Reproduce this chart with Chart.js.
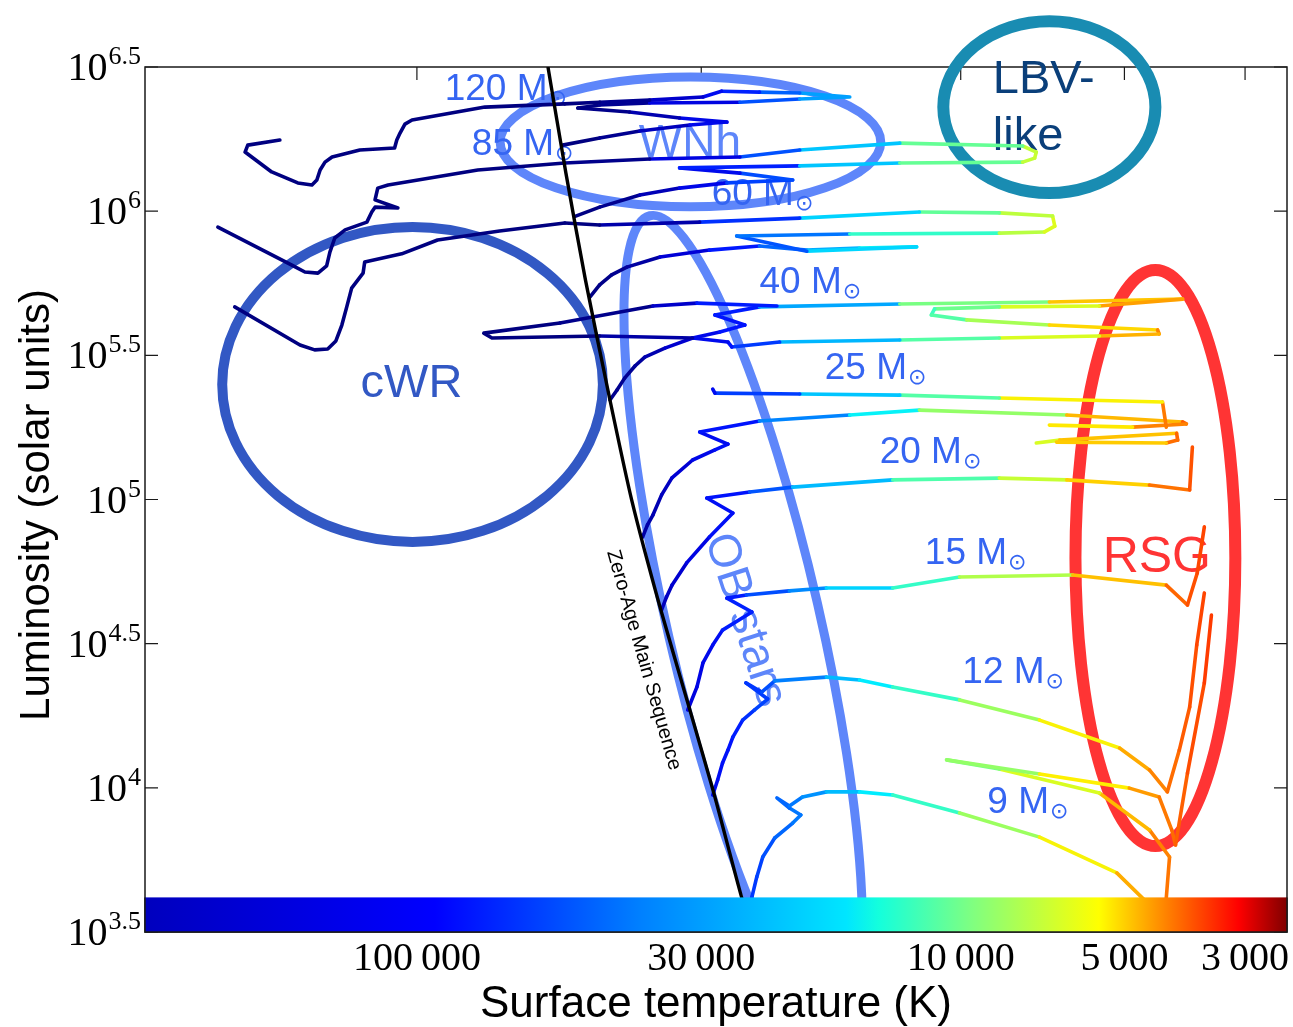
<!DOCTYPE html>
<html>
<head>
<meta charset="utf-8">
<title>HR diagram - massive star tracks</title>
<script src="https://cdn.jsdelivr.net/npm/chart.js@4.4.1/dist/chart.umd.min.js"></script>
<style>
  html, body { margin: 0; padding: 0; background: #fff; }
  #wrap { width: 1293px; height: 1027px; }
</style>
</head>
<body>
<div id="wrap"><canvas id="hrd" width="1293" height="1027"></canvas></div>
<script>
// every point is [log Teff, log L/Lsun]; null breaks the line
const zams = [
  [4.759, 6.500], [4.726, 6.132], [4.690, 5.761], [4.645, 5.345], [4.605, 4.998],
  [4.553, 4.627], [4.498, 4.270], [4.454, 3.982], [4.403, 3.621], [4.395, 3.590]
];

const track120 = [
  [4.732, 6.229], [4.664, 6.254], [4.590, 6.278], [4.498, 6.299], [4.430, 6.309], [4.517, 6.323],
  [4.609, 6.344], [4.704, 6.358], [4.664, 6.368], [4.572, 6.375], [4.406, 6.378], [4.296, 6.389],
  [4.204, 6.396], [4.296, 6.410], [4.370, 6.413], [4.440, 6.416], [4.474, 6.396], [4.572, 6.385],
  [4.664, 6.378], [4.728, 6.372], [4.875, 6.361], [5.009, 6.316], [5.022, 6.302], [5.031, 6.271],
  [5.037, 6.247], [5.041, 6.219], [5.105, 6.212], [5.156, 6.188], [5.169, 6.170], [5.178, 6.143],
  [5.184, 6.108], [5.193, 6.091], [5.219, 6.098], [5.267, 6.136], [5.316, 6.205], [5.311, 6.229],
  [5.252, 6.247]
];

const track85 = [
  [4.708, 5.983], [4.664, 6.014], [4.590, 6.056], [4.517, 6.080], [4.430, 6.098], [4.309, 6.108],
  [4.406, 6.132], [4.517, 6.150], [4.296, 6.157], [4.112, 6.167], [3.886, 6.170], [3.864, 6.184],
  [3.861, 6.205], [3.886, 6.226], [4.112, 6.236], [4.296, 6.212], [4.406, 6.188], [4.572, 6.181],
  [4.728, 6.167], [4.888, 6.143], [5.053, 6.091], [5.072, 6.080], [5.077, 6.039], [5.035, 6.011],
  [5.077, 6.014], [5.083, 5.997], [5.092, 5.962], [5.132, 5.935], [5.151, 5.907], [5.160, 5.858],
  [5.166, 5.810], [5.182, 5.785], [5.206, 5.789], [5.230, 5.813], [5.366, 5.945]
];

const track60 = [
  [4.682, 5.702], [4.664, 5.744], [4.642, 5.779], [4.614, 5.806], [4.553, 5.841], [4.462, 5.865],
  [4.370, 5.879], [4.283, 5.865], [4.186, 5.872], [4.081, 5.876], [4.283, 5.861], [4.412, 5.914],
  [4.204, 5.921], [3.929, 5.924], [3.846, 5.928], [3.827, 5.948], [3.831, 5.983], [3.929, 5.994],
  [4.076, 5.997], [4.296, 5.976], [4.480, 5.962], [4.664, 5.952], [4.728, 5.959], [4.848, 5.931],
  [4.962, 5.900], [5.028, 5.852], [5.096, 5.824], [5.099, 5.785], [5.120, 5.733], [5.129, 5.668],
  [5.138, 5.605], [5.149, 5.550], [5.164, 5.522], [5.188, 5.519], [5.215, 5.536], [5.335, 5.668]
];

const track40 = [
  [4.645, 5.345], [4.632, 5.380], [4.618, 5.421], [4.599, 5.463], [4.581, 5.494], [4.544, 5.525],
  [4.493, 5.560], [4.443, 5.581], [4.397, 5.605], [4.452, 5.640], [4.370, 5.668], [4.112, 5.678],
  [3.837, 5.685], [3.592, 5.695], [3.745, 5.671], [3.929, 5.668], [4.048, 5.661], [4.054, 5.640],
  [3.989, 5.623], [3.837, 5.605], [3.638, 5.588], [3.635, 5.574], [3.745, 5.567], [3.929, 5.560],
  [4.112, 5.553], [4.333, 5.546], [4.421, 5.529], [4.428, 5.546], [4.493, 5.560], [4.664, 5.567],
  [4.862, 5.560], [4.877, 5.577], [4.737, 5.612], [4.566, 5.671], [4.485, 5.681], [4.338, 5.671]
];

const track25 = [
  [4.585, 4.870], [4.576, 4.912], [4.566, 4.946], [4.550, 5.016], [4.531, 5.075], [4.493, 5.137],
  [4.452, 5.172], [4.428, 5.192], [4.480, 5.234], [4.370, 5.272], [4.204, 5.293], [4.076, 5.310],
  [3.805, 5.293], [3.592, 5.269], [3.585, 5.262], [3.684, 5.251], [3.837, 5.258],
  null,
  [3.861, 5.196], [3.818, 5.206], [3.603, 5.230], [3.601, 5.206], [3.622, 5.196], [3.824, 5.199],
  null,
  [3.622, 5.251], [3.629, 5.338], [3.929, 5.352], [4.112, 5.362], [4.296, 5.366], [4.452, 5.369],
  [4.456, 5.383]
];

const track20 = [
  [4.550, 4.617], [4.541, 4.662], [4.531, 4.703], [4.504, 4.780], [4.462, 4.870], [4.419, 4.953],
  [4.467, 5.005], [4.388, 5.026], [4.309, 5.043], [4.125, 5.068], [3.929, 5.074], [3.805, 5.068],
  [3.653, 5.050], [3.579, 5.033], [3.574, 5.182]
];

const track15 = [
  [4.502, 4.270], [4.485, 4.350], [4.474, 4.433], [4.456, 4.495], [4.438, 4.547], [4.384, 4.610],
  [4.430, 4.658], [4.394, 4.669], [4.315, 4.683], [4.247, 4.693], [4.125, 4.693], [4.002, 4.731],
  [3.794, 4.738], [3.622, 4.703], [3.583, 4.634], [3.565, 4.745], [3.552, 4.905]
];

const track12 = [
  [4.456, 3.975], [4.447, 4.027], [4.438, 4.086], [4.428, 4.131], [4.419, 4.176], [4.401, 4.235],
  [4.379, 4.270], [4.355, 4.308], [4.395, 4.364], [4.366, 4.332], [4.342, 4.371], [4.247, 4.384],
  [4.186, 4.374], [4.125, 4.350], [4.002, 4.305], [3.855, 4.235], [3.708, 4.138], [3.653, 4.062],
  [3.620, 3.986], [3.598, 4.131], [3.579, 4.280], [3.566, 4.495], [3.552, 4.676]
];

const track9 = [
  [4.388, 3.590], [4.384, 3.621], [4.375, 3.691], [4.364, 3.760], [4.342, 3.826], [4.309, 3.878],
  [4.294, 3.906], [4.315, 3.930], [4.338, 3.965], [4.315, 3.937], [4.291, 3.968], [4.247, 3.986],
  [4.186, 3.986], [4.125, 3.975], [4.002, 3.913], [3.855, 3.829], [3.713, 3.705], [3.653, 3.594],
  null,
  [3.623, 3.594], [3.616, 3.760], [3.653, 3.854], [3.745, 3.982], [3.929, 4.065], [4.026, 4.097],
  [3.855, 4.048], [3.690, 3.999], [3.635, 3.968], [3.612, 3.854], [3.605, 3.802], [3.583, 4.051],
  [3.552, 4.364], [3.539, 4.599]
];

const massNames = ["120", "85", "60", "40", "25", "20", "15", "12", "9"];
const massTracks = [track120, track85, track60, track40, track25, track20, track15, track12, track9];
const massLabelAt = [
  [4.949, 6.385], [4.899, 6.195], [4.458, 6.021], [4.370, 5.716], [4.250, 5.418],
  [4.149, 5.127], [4.066, 4.776], [3.997, 4.364], [3.951, 3.913]
];

const tempTicks = [100000, 30000, 10000, 5000, 3000];
const lumTicks = [3.5, 4, 4.5, 5, 5.5, 6, 6.5];

// regions: centre and semi-axes in dex
const regionNames = ["cWR", "WNh", "LBV", "RSG", "OB"];
const regionCentre = [[5.008, 5.399], [4.497, 6.240], [3.837, 6.361], [3.642, 4.797], [4.400, 4.582]];
const regionRadius = [[0.350, 0.546], [0.350, 0.225], [0.195, 0.298], [0.147, 0.999], [0.140, 1.439]];

// ---- styling ----
const regionStyle = {
  cWR: { colour: "#3258c4", width: 10, tilt: 0 },
  WNh: { colour: "#5e86fa", width: 9, tilt: 0 },
  LBV: { colour: "#198cb2", width: 12, tilt: 0 },
  RSG: { colour: "#ff3434", width: 12, tilt: 0 },
  OB: { colour: "#5e86fa", width: 9, tilt: -13 }
};

const SANS = '"Liberation Sans", Arial, sans-serif';
const SERIF = '"Liberation Serif", "DejaVu Serif", serif';

const notes = [
  { text: "cWR", at: [5.010, 5.355], size: 47, colour: "#3258c4", align: "center" },
  { text: "WNh", at: [4.498, 6.188], size: 46, colour: "#5e86fa", align: "center" },
  { text: "LBV-", at: [3.941, 6.410], size: 47, colour: "#0a3f7a", align: "left" },
  { text: "like", at: [3.941, 6.212], size: 47, colour: "#0a3f7a", align: "left" },
  { text: "RSG", at: [3.739, 4.749], size: 50, colour: "#ff3434", align: "left" },
  { text: "OB stars", at: [4.397, 4.582], size: 46, colour: "#5e86fa", align: "center", angle: 72, middle: true },
  { text: "Zero-Age Main Sequence", at: [4.583, 4.443], size: 20, colour: "#000", align: "center", angle: 74, middle: true }
];

// colour along the tracks, by log Teff (hot -> cool)
const trackStops = [
  [4.70, [0, 0, 128]], [4.60, [0, 0, 150]], [4.50, [0, 0, 220]], [4.42, [0, 20, 255]],
  [4.33, [0, 100, 255]], [4.25, [0, 160, 255]], [4.15, [0, 240, 255]], [4.05, [60, 255, 190]],
  [3.95, [140, 255, 110]], [3.85, [210, 255, 40]], [3.77, [255, 240, 0]], [3.68, [255, 170, 0]],
  [3.60, [255, 100, 0]], [3.52, [255, 40, 0]], [3.40, [200, 0, 0]]
];
// colour bar along the bottom
const barStops = [
  [5.50, [0, 0, 190]], [4.967, [0, 0, 255]], [4.59, [0, 128, 255]], [4.21, [0, 230, 255]],
  [4.15, [20, 255, 220]], [3.978, [128, 255, 128]], [3.746, [255, 255, 0]], [3.62, [255, 128, 0]],
  [3.489, [255, 0, 0]], [3.40, [128, 0, 0]]
];
const barTop = 3.62;

function mix(stops, t) {
  if (t >= stops[0][0]) return stops[0][1];
  for (let i = 1; i < stops.length; i++) {
    if (t >= stops[i][0]) {
      const [t0, c0] = stops[i - 1];
      const [t1, c1] = stops[i];
      const f = (t0 - t) / (t0 - t1);
      return c0.map((v, k) => Math.round(v + (c1[k] - v) * f));
    }
  }
  return stops[stops.length - 1][1];
}
const rgb = c => "rgb(" + c.join(",") + ")";
const trackColour = t => rgb(mix(trackStops, t));

const toPoints = arr => arr.map(p => (p ? { x: p[0], y: p[1] } : { x: null, y: null }));
const groupDigits = n => String(n).replace(/\B(?=(\d{3})+(?!\d))/g, "\u2009");

const datasets = massTracks.map((tr, i) => ({
  label: massNames[i] + " Msun",
  data: toPoints(tr),
  showLine: true,
  pointRadius: 0,
  borderWidth: 3.6,
  borderColor: "#00008a",
  borderCapStyle: "round",
  borderJoinStyle: "round",
  order: 1,
  segment: {
    borderColor: c => trackColour((c.p0.parsed.x + c.p1.parsed.x) / 2)
  }
}));
datasets.push({
  label: "ZAMS",
  data: toPoints(zams),
  showLine: true,
  pointRadius: 0,
  borderWidth: 3.4,
  borderColor: "#000",
  tension: 0.2,
  order: 0
});

const hrdDecor = {
  id: "hrdDecor",
  beforeDatasetsDraw(chart) {
    const { ctx, chartArea: a, scales: { x, y } } = chart;
    ctx.save();

    // frame with inward ticks
    ctx.strokeStyle = "#1a1a1a";
    ctx.lineWidth = 1.5;
    ctx.strokeRect(a.left, a.top, a.right - a.left, a.bottom - a.top);
    ctx.lineWidth = 1.2;
    ctx.beginPath();
    lumTicks.forEach(v => {
      const py = y.getPixelForValue(v);
      ctx.moveTo(a.left, py); ctx.lineTo(a.left + 13, py);
      ctx.moveTo(a.right, py); ctx.lineTo(a.right - 13, py);
    });
    tempTicks.forEach(T => {
      const px = x.getPixelForValue(Math.log10(T));
      ctx.moveTo(px, a.top); ctx.lineTo(px, a.top + 13);
    });
    ctx.stroke();

    // region outlines (may spill over the top edge, never below the axis)
    ctx.save();
    ctx.beginPath();
    ctx.rect(0, 0, chart.width, a.bottom);
    ctx.clip();
    regionNames.forEach((name, i) => {
      const st = regionStyle[name];
      const [t, l] = regionCentre[i];
      const [rt, rl] = regionRadius[i];
      const cx = x.getPixelForValue(t), cy = y.getPixelForValue(l);
      const rx = Math.abs(x.getPixelForValue(t + rt) - cx);
      const ry = Math.abs(y.getPixelForValue(l + rl) - cy);
      ctx.beginPath();
      ctx.ellipse(cx, cy, rx, ry, st.tilt * Math.PI / 180, 0, 2 * Math.PI);
      ctx.lineWidth = st.width;
      ctx.strokeStyle = st.colour;
      ctx.stroke();
    });
    ctx.restore();

    // region names
    notes.forEach(n => {
      ctx.save();
      ctx.translate(x.getPixelForValue(n.at[0]), y.getPixelForValue(n.at[1]));
      if (n.angle) ctx.rotate(n.angle * Math.PI / 180);
      ctx.font = n.size + "px " + SANS;
      ctx.fillStyle = n.colour;
      ctx.textAlign = n.align;
      ctx.textBaseline = n.middle ? "middle" : "alphabetic";
      ctx.fillText(n.text, 0, 0);
      ctx.restore();
    });

    // mass labels, M with a sun subscript
    massNames.forEach((m, i) => {
      const px = x.getPixelForValue(massLabelAt[i][0]);
      const py = y.getPixelForValue(massLabelAt[i][1]);
      ctx.fillStyle = "#3565f2";
      ctx.textAlign = "left";
      ctx.textBaseline = "alphabetic";
      ctx.font = "37px " + SANS;
      const txt = m + " M";
      ctx.fillText(txt, px, py);
      const w = ctx.measureText(txt).width;
      ctx.font = '22px "DejaVu Sans", sans-serif';
      ctx.fillText("\u2299", px + w + 1, py + 5);
    });
    ctx.restore();
  },
  afterDatasetsDraw(chart) {
    const { ctx, chartArea: a, scales: { x, y } } = chart;
    ctx.save();

    // temperature colour bar
    const top = y.getPixelForValue(barTop);
    const grad = ctx.createLinearGradient(a.left, 0, a.right, 0);
    barStops.forEach(([t, c]) => {
      const f = (x.getPixelForValue(t) - a.left) / (a.right - a.left);
      grad.addColorStop(Math.min(1, Math.max(0, f)), rgb(c));
    });
    ctx.fillStyle = grad;
    ctx.fillRect(a.left, top, a.right - a.left, a.bottom - top);
    ctx.strokeStyle = "#1a1a1a";
    ctx.lineWidth = 1.5;
    ctx.beginPath();
    ctx.moveTo(a.left, top); ctx.lineTo(a.left, a.bottom); ctx.lineTo(a.right, a.bottom); ctx.lineTo(a.right, top);
    ctx.stroke();

    // y tick labels: 10^v
    ctx.fillStyle = "#000";
    ctx.textAlign = "right";
    ctx.textBaseline = "alphabetic";
    lumTicks.forEach(v => {
      const py = y.getPixelForValue(v);
      const sup = String(v);
      ctx.font = "26px " + SERIF;
      const sw = ctx.measureText(sup).width;
      ctx.fillText(sup, a.left - 4, py - 3);
      ctx.font = "40px " + SERIF;
      ctx.fillText("10", a.left - 5 - sw, py + 13);
    });

    // x tick labels
    ctx.textAlign = "center";
    ctx.font = "40px " + SERIF;
    tempTicks.forEach(T => {
      ctx.fillText(groupDigits(T), x.getPixelForValue(Math.log10(T)), 970);
    });

    // axis titles
    ctx.font = "44px " + SANS;
    ctx.fillText("Surface temperature (K)", (a.left + a.right) / 2, 1017);
    ctx.save();
    ctx.translate(49, 505);
    ctx.rotate(-Math.PI / 2);
    ctx.font = "42px " + SANS;
    ctx.fillText("Luminosity (solar units)", 0, 0);
    ctx.restore();

    ctx.restore();
  }
};

new Chart(document.getElementById("hrd"), {
  type: "scatter",
  data: { datasets },
  options: {
    responsive: false,
    devicePixelRatio: 1,
    animation: false,
    events: [],
    layout: { padding: { left: 145, top: 67, right: 6, bottom: 95 } },
    plugins: { legend: { display: false }, tooltip: { enabled: false } },
    scales: {
      x: { type: "linear", reverse: true, min: 3.4, max: 5.5, display: false },
      y: { type: "linear", min: 3.5, max: 6.5, display: false }
    }
  },
  plugins: [hrdDecor]
});
</script>
</body>
</html>
